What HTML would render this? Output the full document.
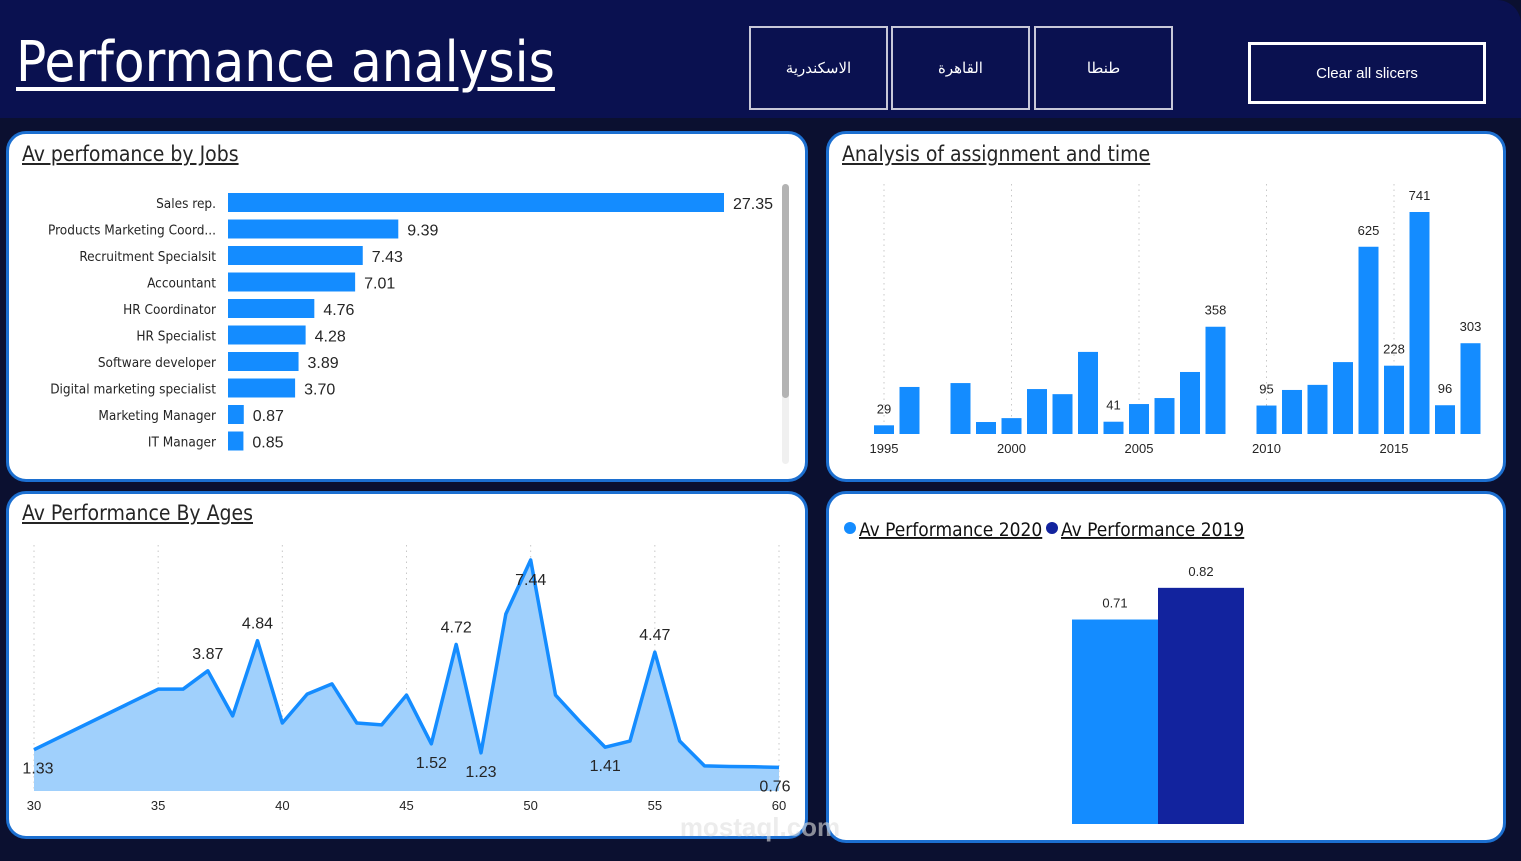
<!DOCTYPE html>
<html><head><meta charset="utf-8"><style>
*{margin:0;padding:0;box-sizing:border-box}
body{width:1521px;height:861px;overflow:hidden;background:#0b1030;font-family:"Liberation Sans","DejaVu Sans",sans-serif;position:relative}
.hdr{position:absolute;left:0;top:0;width:1521px;height:118px;background:#0a1150;border-top-right-radius:24px}
.title{position:absolute;left:16px;top:30px;color:#fff;font-size:56px;text-decoration:underline;text-decoration-thickness:4px;text-underline-offset:6px;font-family:"DejaVu Sans Condensed","DejaVu Sans",sans-serif}
.slc{position:absolute;top:26px;width:139px;height:84px;border:2px solid #c8c8d8;color:#fff;display:flex;align-items:center;justify-content:center;font-size:15px;font-family:"Liberation Sans","Noto Sans CJK SC",sans-serif}
.clear{position:absolute;left:1248px;top:42px;width:238px;height:62px;border:3px solid #fff;color:#fff;display:flex;align-items:center;justify-content:center;font-size:15px}
.panel{position:absolute;background:#fff;border:3px solid #1c6fd0;border-radius:20px}
.pt{position:absolute;font-size:21px;color:#252525;text-decoration:underline;font-family:"DejaVu Sans Condensed","DejaVu Sans",sans-serif}
svg{position:absolute;left:0;top:0}
</style></head><body>
<div class="hdr"></div>
<div class="title">Performance analysis</div>
<div class="slc" style="left:749px">الاسكندرية</div>
<div class="slc" style="left:891px">القاهرة</div>
<div class="slc" style="left:1034px">طنطا</div>
<div class="clear">Clear all slicers</div>

<div class="panel" style="left:6px;top:131px;width:802px;height:351px"></div>
<div class="panel" style="left:826px;top:131px;width:680px;height:351px"></div>
<div class="panel" style="left:6px;top:491px;width:802px;height:348px"></div>
<div class="panel" style="left:826px;top:491px;width:680px;height:352px"></div>

<div class="pt" style="left:22px;top:142px">Av perfomance by Jobs</div>
<div class="pt" style="left:842px;top:142px">Analysis of assignment and time</div>
<div class="pt" style="left:22px;top:501px">Av Performance By Ages</div>

<svg id="s" width="1521" height="861"></svg>
<script>
const jobNames=["Sales rep.","Products Marketing Coord...","Recruitment Specialsit","Accountant","HR Coordinator","HR Specialist","Software developer","Digital marketing specialist","Marketing Manager","IT Manager"];
const jobValues=[27.35,9.39,7.43,7.01,4.76,4.28,3.89,3.70,0.87,0.85];
const years=[1995,1996,1998,1999,2000,2001,2002,2003,2004,2005,2006,2007,2008,2010,2011,2012,2013,2014,2015,2016,2017,2018];
const yearValues=[29,157,170,40,53,150,133,274,41,100,120,207,358,95,147,164,240,625,228,741,96,303];
const yearLabelShown=[29,41,358,95,625,228,741,96,303];
const yearTicks=[1995,2000,2005,2010,2015];
const ages=[30,35,36,37,38,39,40,41,42,43,44,45,46,47,48,49,50,51,52,53,54,55,56,57,58,59,60];
const ageValues=[1.33,3.28,3.28,3.87,2.42,4.84,2.19,3.12,3.45,2.19,2.13,3.09,1.52,4.72,1.23,5.70,7.44,3.09,2.22,1.41,1.61,4.47,1.61,0.81,0.79,0.78,0.76];
const ageLabels={30:["1.33","below"],37:["3.87","above"],39:["4.84","above"],46:["1.52","below"],47:["4.72","above"],48:["1.23","below"],50:["7.44","inside"],53:["1.41","below"],55:["4.47","above"],60:["0.76","below"]};
const ageTicks=[30,35,40,45,50,55,60];
const seriesNames=["Av Performance 2020","Av Performance 2019"];
const seriesValues=[0.71,0.82];
const seriesColors=["#148cff","#12239e"];

const S=document.getElementById('s');const NS='http://www.w3.org/2000/svg';
function mk(t,a,txt){const e=document.createElementNS(NS,t);for(const k in a)e.setAttribute(k,a[k]);if(txt!==undefined)e.textContent=txt;S.appendChild(e);return e;}

// Jobs bars
const jx=v=>228+v*(496/27.35);
jobNames.forEach((n,i)=>{const y=193+i*26.5;
 let t=mk('text',{x:216,y:y+15,'text-anchor':'end','font-size':13.5,fill:'#252525','font-family':'DejaVu Sans Condensed, DejaVu Sans, sans-serif'},n);
 
 let r=mk('rect',{x:228,y:y,width:jx(jobValues[i])-228,height:19,fill:'#148cff'});
 
 let v=mk('text',{x:jx(jobValues[i])+9,y:y+16,'font-size':16,fill:'#252525'},jobValues[i].toFixed(2));
 
});
let sb=mk('rect',{x:782,y:184,width:7,height:280,rx:3.5,fill:'#f0f0f0'});
let sb2=mk('rect',{x:782,y:184,width:7,height:214,rx:3.5,fill:'#b3b3b3'});

// Year bars
const yx=yr=>884+(yr-1995)*25.5, yy=v=>434-v*(222/741);
yearTicks.forEach(t=>{let l=mk('line',{x1:yx(t),x2:yx(t),y1:184,y2:434,stroke:'#c8c8c8','stroke-dasharray':'1.5,4'});
 let tx=mk('text',{x:yx(t),y:453,'text-anchor':'middle','font-size':13,fill:'#252525'},t);});
years.forEach((yr,i)=>{const v=yearValues[i];
 let r=mk('rect',{x:yx(yr)-10,y:yy(v),width:20,height:434-yy(v),fill:'#148cff'});
 if(yearLabelShown.includes(v)){let t=mk('text',{x:yx(yr),y:yy(v)-12,'text-anchor':'middle','font-size':13,fill:'#252525'},v);}
});

// Ages area
const ax=a=>34+(a-30)*(745/30), ay=v=>791-v*(231/7.44);
ageTicks.forEach(t=>{let l=mk('line',{x1:ax(t),x2:ax(t),y1:545,y2:791,stroke:'#c8c8c8','stroke-dasharray':'1.5,4'});
 let tx=mk('text',{x:ax(t),y:810,'text-anchor':'middle','font-size':13,fill:'#252525'},t);});
let pts=ages.map((a,i)=>ax(a)+','+ay(ageValues[i])).join(' ');
let ar=mk('polygon',{points:ax(30)+',791 '+pts+' '+ax(60)+',791',fill:'#a0d0fc'});
let ln=mk('polyline',{points:pts,fill:'none',stroke:'#148cff','stroke-width':3.5,'stroke-linejoin':'round'});
ages.forEach((a,i)=>{const L=ageLabels[a];if(!L)return;const y=ay(ageValues[i]);
 const ty=L[1]==='above'?y-12:(L[1]==='inside'?y+25:y+24);
 let t=mk('text',{x:ax(a)+(a===30?4:a===60?-4:0),y:ty,'text-anchor':'middle','font-size':16,fill:'#252525'},L[0]);});

// watermark
let wm=mk('text',{x:760,y:836,'text-anchor':'middle','font-size':26,'font-weight':'bold',fill:'#e0e0e0',opacity:0.6},'mostaql.com');

// 2020 vs 2019
const by=v=>824-v*288;
let lx=844;
seriesNames.forEach((n,i)=>{let c=mk('circle',{cx:lx+6,cy:528,r:6,fill:seriesColors[i]});
 let t=mk('text',{x:lx+15,y:536,'font-size':19,fill:'#111','text-decoration':'underline','font-family':'DejaVu Sans Condensed, DejaVu Sans, sans-serif'},n);
 lx+=202;
 let r=mk('rect',{x:1072+i*86,y:by(seriesValues[i]),width:86,height:824-by(seriesValues[i]),fill:seriesColors[i]});
 let v=mk('text',{x:1115+i*86,y:by(seriesValues[i])-12,'text-anchor':'middle','font-size':13,fill:'#252525'},seriesValues[i].toFixed(2));
});
</script>
</body></html>
